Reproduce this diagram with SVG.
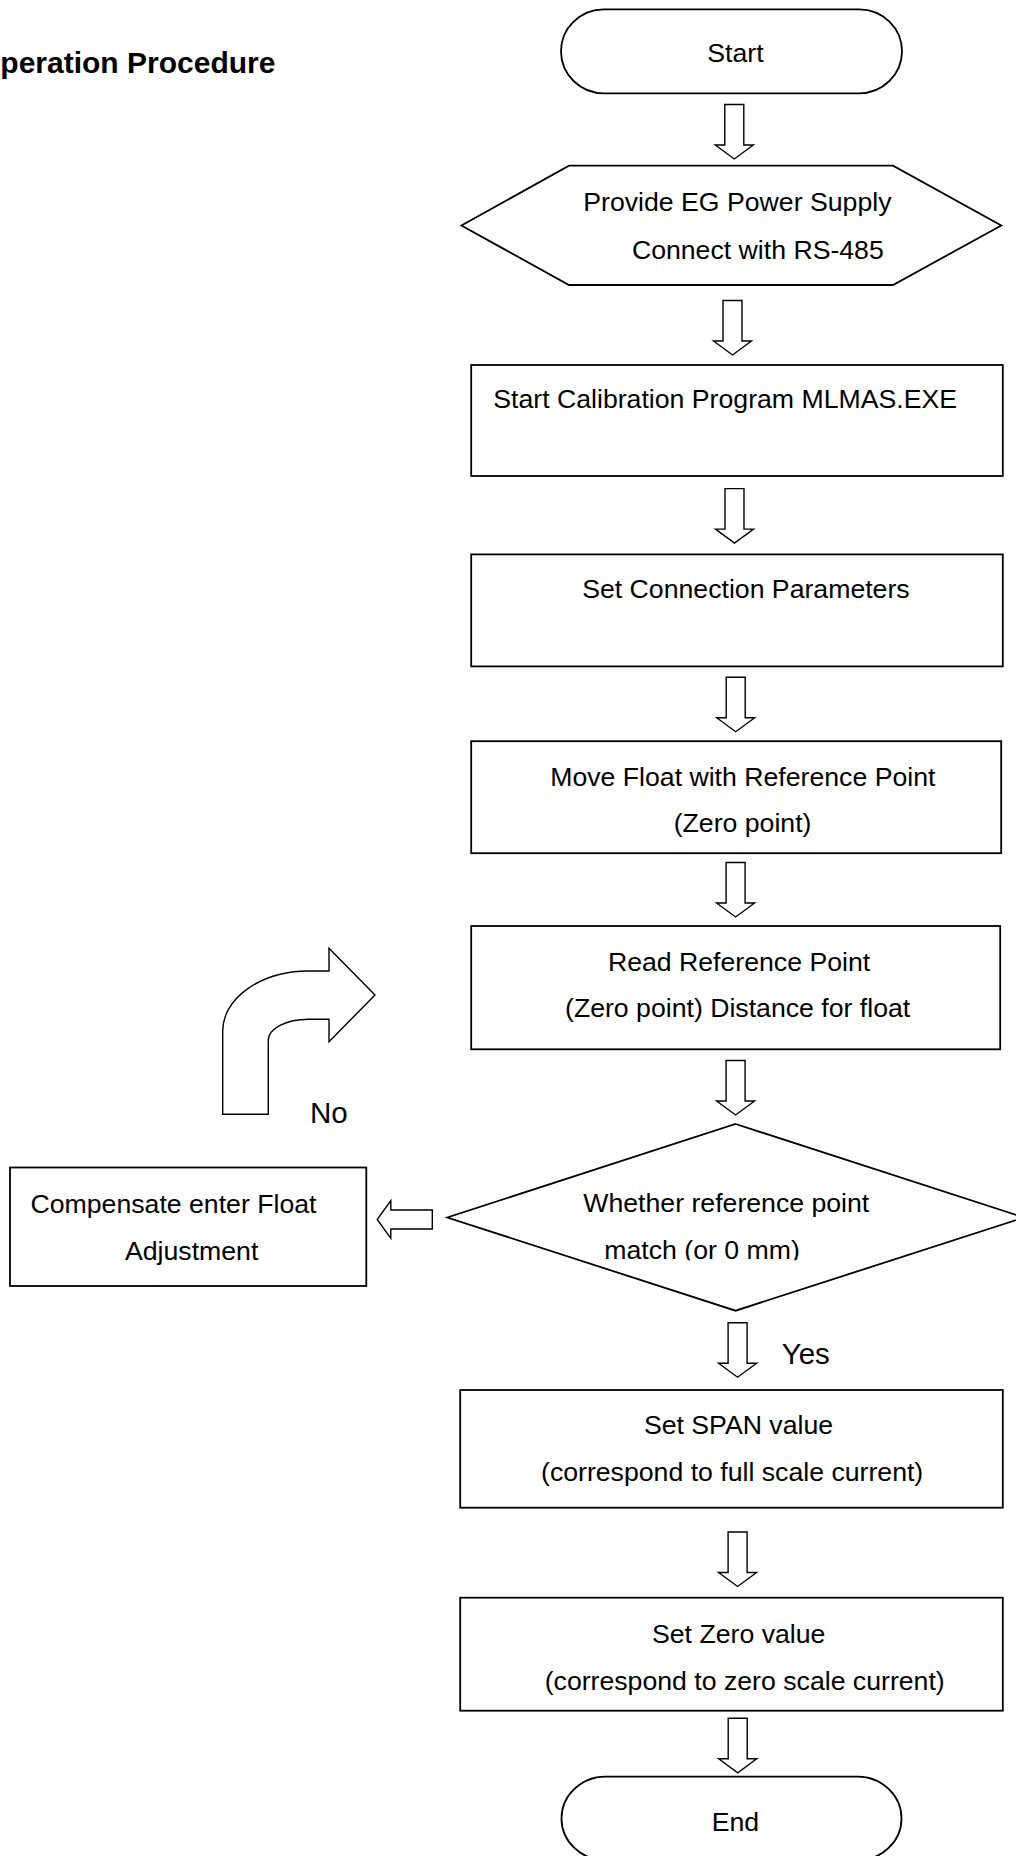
<svg xmlns="http://www.w3.org/2000/svg" xmlns:xlink="http://www.w3.org/1999/xlink" width="1016" height="1856" viewBox="0 0 1016 1856">
<style>
  .shape { fill: #ffffff; stroke: #000000; stroke-width: 1.8; }
  .arrow { fill: #ffffff; stroke: #000000; stroke-width: 1.4; stroke-linejoin: miter; }
  .t { font-family: "Liberation Sans", Arial, sans-serif; font-size: 26.67px; fill: #000000; }
  .lbl { font-family: "Liberation Sans", Arial, sans-serif; font-size: 29.5px; fill: #000000; }
  .title { font-family: "Liberation Sans", Arial, sans-serif; font-size: 30px; font-weight: bold; fill: #000000; }
</style>
<defs>
  <path id="dn" d="M-9.5,0 H9.5 V40.5 H19 L0,54.5 L-19,40.5 H-9.5 Z"/>
  <clipPath id="dclip"><rect x="440" y="1120" width="590" height="140.3"/></clipPath>
</defs>
<rect width="1016" height="1856" fill="#ffffff"/>
<text class="title" x="-23" y="73">Operation Procedure</text>

<g id="connectors">
  <use href="#dn" class="arrow" x="734.3" y="104.5"/>
  <use href="#dn" class="arrow" x="732.5" y="300.5"/>
  <use href="#dn" class="arrow" x="734.5" y="488.6"/>
  <use href="#dn" class="arrow" x="735.7" y="677.2"/>
  <use href="#dn" class="arrow" x="735.6" y="862.5"/>
  <use href="#dn" class="arrow" x="735.6" y="1060.5"/>
  <use href="#dn" class="arrow" x="737.6" y="1322.7"/>
  <use href="#dn" class="arrow" x="737.6" y="1532"/>
  <use href="#dn" class="arrow" x="737.7" y="1718.3"/>
  <path class="arrow" d="M432.3,1210 V1229 H390.8 V1238.3 L377.2,1219.5 L390.8,1200.7 V1210 Z"/>
  <path class="arrow" d="M222.7,1114.3 L222.7,1031 A86,60 0 0 1 308.7,971 L329,971 L329,948.3 L375,995 L329,1041.7 L329,1019.3 L308.3,1019.3 A40,21 0 0 0 268.3,1040.3 L268.3,1114.3 Z"/>
  <text class="lbl" x="310" y="1122.7">No</text>
  <text class="lbl" x="781.7" y="1363.5">Yes</text>
</g>

<g id="start">
  <rect class="shape" x="561" y="9.3" width="341" height="84" rx="43" ry="42"/>
  <text class="t" x="735.5" y="62" text-anchor="middle">Start</text>
</g>

<g id="power">
  <polygon class="shape" points="461.4,225.5 569,165.7 893,165.7 1001.3,225.5 893,285 569,285"/>
  <text class="t" x="583.3" y="211">Provide EG Power Supply</text>
  <text class="t" x="631.9" y="259">Connect with RS-485</text>
</g>

<g id="calib">
  <rect class="shape" x="471.2" y="365" width="531.6" height="111"/>
  <text class="t" x="493.3" y="408">Start Calibration Program MLMAS.EXE</text>
</g>

<g id="conn">
  <rect class="shape" x="471.2" y="554.4" width="531.6" height="112"/>
  <text class="t" x="582.2" y="598.4">Set Connection Parameters</text>
</g>

<g id="move">
  <rect class="shape" x="471.2" y="741.2" width="530" height="112"/>
  <text class="t" x="550.2" y="786">Move Float with Reference Point</text>
  <text class="t" x="673.7" y="832">(Zero point)</text>
</g>

<g id="read">
  <rect class="shape" x="471.2" y="926" width="529" height="123.3"/>
  <text class="t" x="607.9" y="970.7">Read Reference Point</text>
  <text class="t" x="565" y="1017.3">(Zero point) Distance for float</text>
</g>

<g id="decision">
  <polygon class="shape" points="735.6,1124 1024,1217.5 735.6,1310.7 447.3,1217.5"/>
  <g clip-path="url(#dclip)">
    <text class="t" x="583.3" y="1211.7">Whether reference point</text>
    <text class="t" x="604.3" y="1259">match (or 0 mm)</text>
  </g>
</g>

<g id="compensate">
  <rect class="shape" x="10" y="1167.5" width="356.3" height="118.5"/>
  <text class="t" x="30.5" y="1213.3">Compensate enter Float</text>
  <text class="t" x="125" y="1260">Adjustment</text>
</g>

<g id="span">
  <rect class="shape" x="460.2" y="1390" width="542.6" height="117.7"/>
  <text class="t" x="643.9" y="1434.3">Set SPAN value</text>
  <text class="t" x="541" y="1480.7">(correspond to full scale current)</text>
</g>

<g id="zero">
  <rect class="shape" x="460.2" y="1597.7" width="542.6" height="113"/>
  <text class="t" x="652" y="1643.3">Set Zero value</text>
  <text class="t" x="544.7" y="1690">(correspond to zero scale current)</text>
</g>

<g id="end">
  <rect class="shape" x="561.5" y="1776.7" width="340" height="83.5" rx="44" ry="42"/>
  <text class="t" x="711.7" y="1831">End</text>
</g>
</svg>
